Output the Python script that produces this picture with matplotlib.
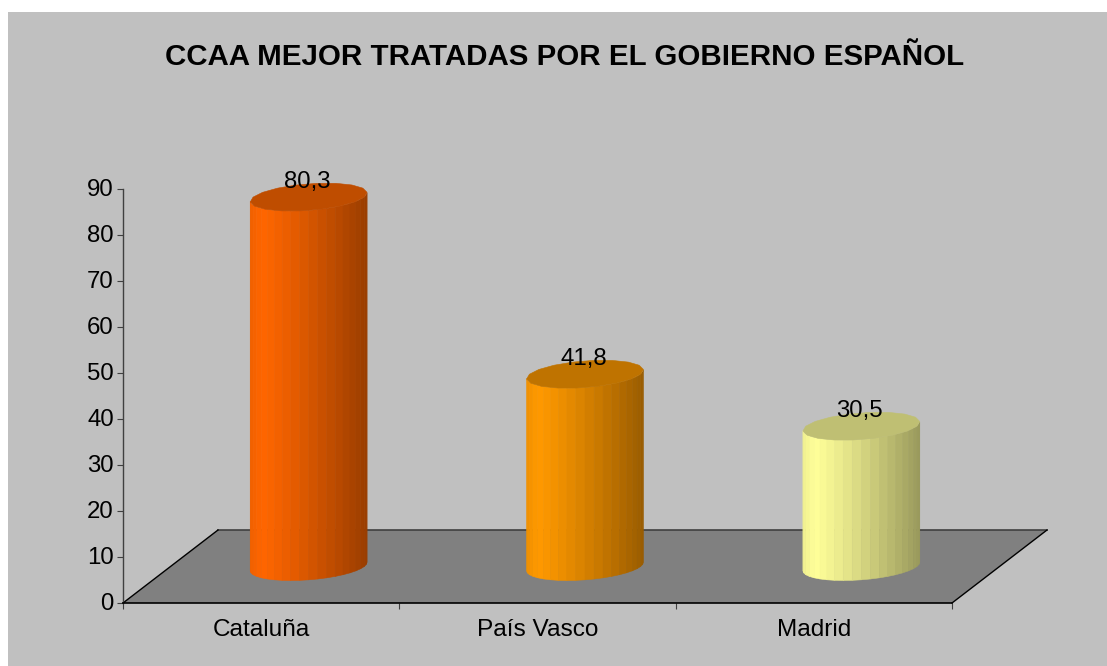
import numpy as np
import matplotlib
matplotlib.use('Agg')
import matplotlib.pyplot as plt
from matplotlib.patches import Rectangle, Polygon
from matplotlib.transforms import ScaledTranslation

#datos
titulo = 'CCAA MEJOR TRATADAS POR EL GOBIERNO ESPAÑOL'
comunidades = ['Cataluña', 'País Vasco', 'Madrid']
valores = [80.3, 41.8, 30.5]
etiquetas = ['80,3', '41,8', '30,5']
ticks_y = [0, 10, 20, 30, 40, 50, 60, 70, 80, 90]

#colores
colores = ['#FF6600', '#FF9900', '#FFFF99']
fondo = '#C0C0C0'
suelo = '#808080'

plt.rcParams['font.family'] = ['Liberation Sans', 'DejaVu Sans']

W, H = 1107, 666
fig = plt.figure(figsize=(W / 100, H / 100), dpi=100, facecolor='white')
fig.patches.append(Rectangle((8 / W, 0), 1 - 8 / W, 1 - 12 / H, transform=fig.transFigure,
                             facecolor=fondo, edgecolor='none', zorder=-10))

ax = fig.add_axes([123 / W, (H - 603) / H, 829 / W, 414 / H])
ax.patch.set_visible(False)
ax.set_xlim(0, 3)
ax.set_ylim(0, 90)

#profundidad del suelo en unidades de datos
prof_x = 95 / 276.33
prof_y = 73 / 4.6

#suelo
ax.add_patch(Polygon([(0, 0), (3, 0), (3 + prof_x, prof_y), (prof_x, prof_y)], closed=True,
                     facecolor=suelo, edgecolor='none', clip_on=False, zorder=1))
ax.plot([prof_x, 3 + prof_x], [prof_y, prof_y], color='#404040', lw=1.2, clip_on=False, zorder=1.5)
ax.plot([0, prof_x], [0, prof_y], color='black', lw=1, clip_on=False, zorder=1.5)
ax.plot([3, 3 + prof_x], [0, prof_y], color='black', lw=1, clip_on=False, zorder=1.5)

#tamaño de la elipse
ex = 55.6 / 276.33
ey_x = 18 / 276.33
ey_y = 14 / 4.6
t0 = np.arctan2(ey_x, ex)


def elipse(cx, cy, t):
    return cx + ex * np.cos(t) + ey_x * np.sin(t), cy + ey_y * np.sin(t)


def brillo(f):
    #f va de 0 (izquierda) a 1 (derecha)
    if f < 0.1:
        return 0.94 + 0.06 * f / 0.1
    return 1.0 - 0.40 * ((f - 0.1) / 0.9) ** 1.15


def cilindro(i, valor, color):
    cx = i + 0.5 + prof_x / 2
    base = prof_y / 2
    tope = base + valor
    rgb = np.array(matplotlib.colors.to_rgb(color))
    ts = np.linspace(np.pi + t0, 2 * np.pi + t0, 21)
    xs, _ = elipse(cx, 0, ts)
    for k in range(len(ts) - 1):
        xa, ya = elipse(cx, base, ts[k])
        xb, yb = elipse(cx, base, ts[k + 1])
        xc, yc = elipse(cx, tope, ts[k + 1])
        xd, yd = elipse(cx, tope, ts[k])
        f = ((xa + xb) / 2 - xs[0]) / (xs[-1] - xs[0])
        c = rgb * brillo(f)
        ax.add_patch(Polygon([(xa, ya), (xb, yb), (xc, yc), (xd, yd)], closed=True, facecolor=c,
                             edgecolor=c, lw=0.4, clip_on=False, zorder=2))
    #tapa
    tt = np.linspace(0, 2 * np.pi, 19)
    xt, yt = elipse(cx, tope, tt)
    ax.add_patch(Polygon(np.column_stack([xt, yt]), closed=True, facecolor=rgb * 0.75,
                         edgecolor=rgb * 0.75, lw=0.4, clip_on=False, zorder=3))
    return cx, tope


for i in range(len(comunidades)):
    cx, tope = cilindro(i, valores[i], colores[i])
    ax.annotate(etiquetas[i], (cx, tope), xytext=(-1.5, 15.5), textcoords='offset pixels',
                ha='center', va='center', fontsize=17.3, color='black', zorder=5, annotation_clip=False)

#ejes
for lado in ['top', 'right']:
    ax.spines[lado].set_visible(False)
ax.spines['left'].set_color('#404040')
ax.spines['left'].set_linewidth(1)
ax.spines['bottom'].set_color('black')
ax.spines['bottom'].set_linewidth(1.2)
ax.spines['left'].set_zorder(4)
ax.spines['bottom'].set_zorder(4)

ax.set_yticks(ticks_y)
ax.tick_params(axis='y', length=4.5, width=0.8, color='#404040', pad=2, labelsize=17.3)
#las etiquetas van un poco por encima de la marca
sube = ScaledTranslation(0, 1.5 / 100, fig.dpi_scale_trans)
for etq in ax.get_yticklabels():
    etq.set_transform(etq.get_transform() + sube)

ax.set_xticks([0, 1, 2, 3])
ax.set_xticklabels([])
ax.tick_params(axis='x', which='major', length=4.5, width=0.8, color='#404040')
ax.set_xticks([0.5, 1.5, 2.5], minor=True)
ax.set_xticklabels(comunidades, minor=True, fontsize=17.6)
ax.tick_params(axis='x', which='minor', length=0, pad=11.5)

fig.text(564.5 / W, 1 - 57 / H, titulo, ha='center', va='center', fontsize=21.25, fontweight='bold')

fig.savefig('out.png', dpi=100)
